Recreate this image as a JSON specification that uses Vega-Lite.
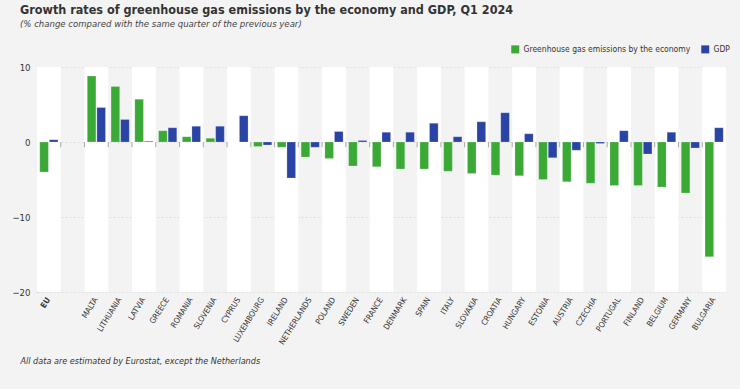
{
  "$schema": "https://vega.github.io/schema/vega-lite/v6.json",
  "width": 689,
  "height": 225,
  "autosize": "none",
  "padding": {"left": 37, "top": 67, "right": 14, "bottom": 97},
  "background": "#f3f3f3",
  "title": {
    "text": "Growth rates of greenhouse gas emissions by the economy and GDP, Q1 2024",
    "subtitle": "(% change compared with the same quarter of the previous year)",
    "anchor": "start",
    "frame": "group",
    "dx": -17,
    "offset": 17,
    "font": "DejaVu Sans Condensed, Roboto, sans-serif",
    "fontSize": 12.5,
    "fontWeight": "bold",
    "color": "#333333",
    "subtitleFont": "DejaVu Sans Condensed, Roboto, sans-serif",
    "subtitleFontSize": 9.5,
    "subtitleFontStyle": "italic",
    "subtitleColor": "#444444",
    "subtitlePadding": 2
  },
  "data": {
    "values": [
      {"country": "EU", "ghg": -4.0, "gdp": 0.3},
      {"country": " ", "ghg": null, "gdp": null},
      {"country": "MALTA", "ghg": 8.8, "gdp": 4.6},
      {"country": "LITHUANIA", "ghg": 7.4, "gdp": 3.0},
      {"country": "LATVIA", "ghg": 5.7, "gdp": 0.1},
      {"country": "GREECE", "ghg": 1.5, "gdp": 1.9},
      {"country": "ROMANIA", "ghg": 0.7, "gdp": 2.1},
      {"country": "SLOVENIA", "ghg": 0.5, "gdp": 2.1},
      {"country": "CYPRUS", "ghg": 0.0, "gdp": 3.5},
      {"country": "LUXEMBOURG", "ghg": -0.6, "gdp": -0.4},
      {"country": "IRELAND", "ghg": -0.7, "gdp": -4.8},
      {"country": "NETHERLANDS", "ghg": -2.0, "gdp": -0.7},
      {"country": "POLAND", "ghg": -2.2, "gdp": 1.4},
      {"country": "SWEDEN", "ghg": -3.2, "gdp": 0.2},
      {"country": "FRANCE", "ghg": -3.3, "gdp": 1.3},
      {"country": "DENMARK", "ghg": -3.6, "gdp": 1.3},
      {"country": "SPAIN", "ghg": -3.6, "gdp": 2.5},
      {"country": "ITALY", "ghg": -3.9, "gdp": 0.7},
      {"country": "SLOVAKIA", "ghg": -4.2, "gdp": 2.7},
      {"country": "CROATIA", "ghg": -4.4, "gdp": 3.9},
      {"country": "HUNGARY", "ghg": -4.5, "gdp": 1.1},
      {"country": "ESTONIA", "ghg": -5.0, "gdp": -2.1},
      {"country": "AUSTRIA", "ghg": -5.3, "gdp": -1.1},
      {"country": "CZECHIA", "ghg": -5.5, "gdp": -0.2},
      {"country": "PORTUGAL", "ghg": -5.8, "gdp": 1.5},
      {"country": "FINLAND", "ghg": -5.8, "gdp": -1.6},
      {"country": "BELGIUM", "ghg": -6.0, "gdp": 1.3},
      {"country": "GERMANY", "ghg": -6.8, "gdp": -0.8},
      {"country": "BULGARIA", "ghg": -15.3, "gdp": 1.9}
    ]
  },
  "encoding": {
    "x": {
      "field": "country",
      "type": "nominal",
      "sort": null,
      "scale": {
        "domain": ["EU", " ", "MALTA", "LITHUANIA", "LATVIA", "GREECE", "ROMANIA", "SLOVENIA", "CYPRUS", "LUXEMBOURG", "IRELAND", "NETHERLANDS", "POLAND", "SWEDEN", "FRANCE", "DENMARK", "SPAIN", "ITALY", "SLOVAKIA", "CROATIA", "HUNGARY", "ESTONIA", "AUSTRIA", "CZECHIA", "PORTUGAL", "FINLAND", "BELGIUM", "GERMANY", "BULGARIA"],
        "paddingInner": 0,
        "paddingOuter": 0
      },
      "axis": {
        "title": "All data are estimated by Eurostat, except the Netherlands",
        "titleFont": "DejaVu Sans Condensed, Roboto, sans-serif",
        "titleFontSize": 9,
        "titleFontStyle": "italic",
        "titleFontWeight": "normal",
        "titleColor": "#333333",
        "titleAnchor": "start",
        "titleAlign": "left",
        "titleX": -17,
        "titleY": 71,
        "titleBaseline": "alphabetic",
        "labelAngle": -58,
        "labelAlign": "right",
        "labelBaseline": "middle",
        "labelPadding": 6,
        "labelFont": "DejaVu Sans Condensed, Roboto, sans-serif",
        "labelFontSize": 8,
        "labelColor": "#333333",
        "labelFontWeight": {"condition": {"test": "datum.value == 'EU'", "value": "bold"}, "value": "normal"},
        "ticks": false,
        "domain": false,
        "grid": false
      }
    }
  },
  "layer": [
    {
      "transform": [
        {"window": [{"op": "row_number", "as": "idx"}]},
        {"filter": "datum.idx % 2 == 1"}
      ],
      "mark": {"type": "rect", "color": "#ffffff"},
      "encoding": {}
    },
    {
      "transform": [
        {"fold": ["ghg", "gdp"], "as": ["series", "value"]},
        {"filter": "datum.value != null"}
      ],
      "mark": {"type": "bar", "stroke": "#ffffff", "strokeOpacity": 0.35, "strokeWidth": 0.6},
      "encoding": {
        "xOffset": {
          "field": "series",
          "type": "nominal",
          "sort": ["ghg", "gdp"],
          "scale": {"paddingInner": 0.1, "paddingOuter": 0.29}
        },
        "y": {
          "field": "value",
          "type": "quantitative",
          "scale": {"domain": [-20, 10], "nice": false},
          "axis": {
            "title": null,
            "values": [-20, -15, -10, -5, 0, 5, 10],
            "ticks": false,
            "labelPadding": 7,
            "labelFont": "DejaVu Sans Condensed, Roboto, sans-serif",
            "labelFontSize": 9.5,
            "labelColor": "#333333",
            "domainColor": "#aaaaaa",
            "gridColor": "#d8d8d8",
            "gridDash": [2, 2],
            "gridWidth": 0.8
          }
        },
        "color": {
          "field": "series",
          "type": "nominal",
          "scale": {"domain": ["ghg", "gdp"], "range": ["#3aa935", "#2a44a6"]},
          "legend": {
            "title": null,
            "orient": "none",
            "legendX": 474,
            "legendY": -22,
            "direction": "horizontal",
            "symbolType": "square",
            "symbolSize": 64,
            "symbolStrokeWidth": 0,
            "symbolOpacity": 1,
            "columnPadding": 10,
            "labelLimit": 300,
            "labelFont": "DejaVu Sans Condensed, Roboto, sans-serif",
            "labelFontSize": 8.5,
            "labelColor": "#333333",
            "labelExpr": "datum.value == 'ghg' ? 'Greenhouse gas emissions by the economy' : 'GDP'"
          }
        }
      }
    },
    {
      "transform": [{"filter": "datum.country != 'EU'"}],
      "mark": {"type": "rule", "color": "#aaaaaa", "strokeWidth": 1},
      "encoding": {
        "x": {"field": "country", "type": "nominal", "bandPosition": 0},
        "y": {"datum": 0},
        "y2": {"datum": -0.7}
      }
    },
    {
      "mark": {"type": "rule", "color": "#999999", "strokeWidth": 1},
      "encoding": {"y": {"datum": 0}}
    }
  ],
  "config": {
    "view": {"stroke": null},
    "font": "DejaVu Sans Condensed, Roboto, sans-serif"
  }
}
